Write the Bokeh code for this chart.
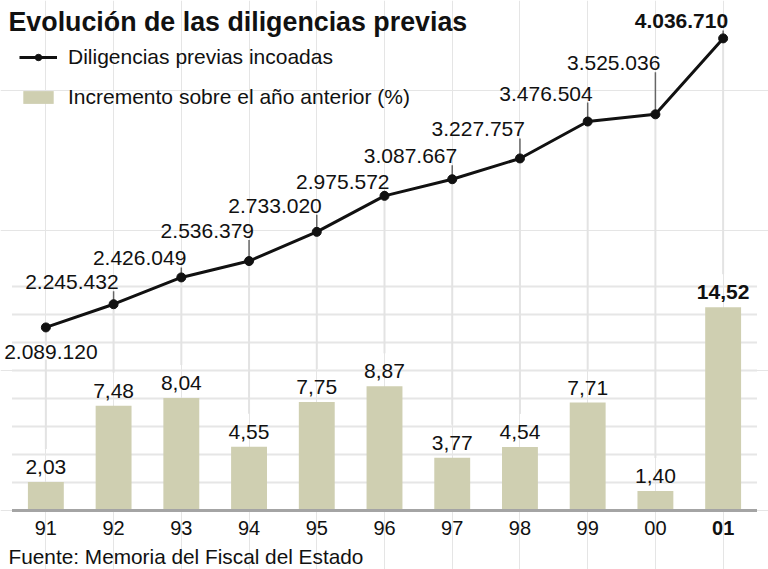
from bokeh.plotting import figure
from bokeh.models import ColumnDataSource, Range1d, FactorRange, Label, Legend, LegendItem
from bokeh.core.properties import value
from bokeh.embed import file_html
from bokeh.resources import INLINE

# ---------------- data ----------------
years = ["91", "92", "93", "94", "95", "96", "97", "98", "99", "00", "01"]
diligencias = [2089120, 2245432, 2426049, 2536379, 2733020, 2975572,
               3087667, 3227757, 3476504, 3525036, 4036710]
incremento = [2.03, 7.48, 8.04, 4.55, 7.75, 8.87, 3.77, 4.54, 7.71, 1.40, 14.52]
grid_ticks = [0, 2, 4, 6, 8, 10, 12, 14, 16]

title_text = "Evolución de las diligencias previas"
legend_line = "Diligencias previas incoadas"
legend_bar = "Incremento sobre el año anterior (%)"
source_text = "Fuente: Memoria del Fiscal del Estado"

# ---------------- layout / style ----------------
W, H = 768, 569
FONT = "Liberation Sans"
BAR = "#cfcfb1"
VLINE = "#e3e3e3"
GRID = "#e6e6e6"
TXT = "#111111"

BASE_PX = 59          # baseline distance from bottom of frame
PX_PER_PCT = 14.0
bar_start = -BASE_PX / PX_PER_PCT
bar_end = (H - BASE_PX) / PX_PER_PCT
line_start, line_end = 458000, 4292000
DIL_PER_PX = (line_end - line_start) / H
K = (line_end - line_start) / (bar_end - bar_start)

# label placement (px above point, screen)
lab_up = [-25, 22, 19, 30, 26, 14, 23, 29, 28, 51, 17]
n = len(years)
last_bold = ["bold" if i == n - 1 else "normal" for i in range(n)]

dil_labels = [f"{v:,}".replace(",", ".") for v in diligencias]
inc_labels = [f"{v:.2f}".replace(".", ",") for v in incremento]

p = figure(width=W, height=H, output_backend="svg", toolbar_location=None,
           x_range=FactorRange(*years, range_padding=W / 745 - 1),
           y_range=Range1d(bar_start, bar_end),
           x_axis_location=None, y_axis_location=None,
           min_border=0, outline_line_color=None)
p.extra_y_ranges = {"dil": Range1d(line_start, line_end)}

# horizontal grid
gsrc = ColumnDataSource(dict(y=grid_ticks,
                             x0=[(years[0], -0.5)] * len(grid_ticks),
                             x1=[(years[-1], 0.5)] * len(grid_ticks)))
p.segment(x0="x0", x1="x1", y0="y", y1="y", source=gsrc, line_color=GRID, line_width=2)

# vertical light lines from point down to bar label
vsrc = ColumnDataSource(dict(
    x=years, y0=diligencias,
    y1=[line_start + (v + 33 / PX_PER_PCT - bar_start) * K for v in incremento]))
p.segment(x0="x", x1="x", y0="y0", y1="y1", source=vsrc, y_range_name="dil",
          line_color=VLINE, line_width=2)

# bars
bars = p.vbar(x=years, top=incremento, width=0.53, fill_color=BAR, line_color=None)

# baseline
bsrc = ColumnDataSource(dict(x0=[(years[0], -0.5)], x1=[(years[-1], 0.5)], y=[0]))
p.segment(x0="x0", x1="x1", y0="y", y1="y", source=bsrc, line_color="#a4a4a4", line_width=3)

# bar labels
p.text(x=years, y=incremento, text=inc_labels, y_offset=-15,
       text_align="center", text_baseline="middle",
       text_font=value(FONT), text_font_size="21px", text_color=TXT,
       text_font_style=last_bold)

# line labels
lsrc = ColumnDataSource(dict(
    x=years, y=diligencias, t=dil_labels,
    yo=[-u for u in lab_up],
    al=["center" if u < 0 else "right" for u in lab_up],
    bga=[1 if u < 0 else 0 for u in lab_up],
    st=last_bold))
p.text(x="x", y="y", text="t", source=lsrc, y_range_name="dil",
       x_offset=5, y_offset="yo", text_align="al", text_baseline="middle",
       text_font=value(FONT), text_font_size="21px", text_color=TXT,
       text_font_style="st", background_fill_color="white", background_fill_alpha="bga")

# leader lines (label above point)
up_idx = [i for i in range(n) if lab_up[i] > 0]
ldsrc = ColumnDataSource(dict(
    x=[years[i] for i in up_idx],
    y0=[diligencias[i] for i in up_idx],
    y1=[diligencias[i] + (lab_up[i] - 9) * DIL_PER_PX for i in up_idx]))
p.segment(x0="x", x1="x", y0="y0", y1="y1", source=ldsrc, y_range_name="dil",
          line_color="#666666", line_width=1.5)

# line + dots
ln = p.line(x=years, y=diligencias, y_range_name="dil", line_color=TXT, line_width=3)
dots = p.scatter(x=years, y=diligencias, y_range_name="dil", size=9,
                 fill_color=TXT, line_color=TXT)

# x tick labels
p.text(x=years, y=[0] * n, text=years, y_offset=17,
       text_align="center", text_baseline="middle",
       text_font=value(FONT), text_font_size="20px", text_color=TXT,
       text_font_style=last_bold)

# legend
legend = Legend(items=[LegendItem(label=legend_line, renderers=[ln, dots]),
                       LegendItem(label=legend_bar, renderers=[bars])],
                location=(19, 460), orientation="vertical",
                glyph_width=38, glyph_height=16, label_height=24, spacing=16,
                label_standoff=11, padding=0, margin=0,
                border_line_color=None, background_fill_alpha=0,
                label_text_font=FONT, label_text_font_size="21px",
                label_text_color=TXT)
p.add_layout(legend)

# title & source
p.add_layout(Label(x=8, y=H - 21, x_units="screen", y_units="screen", text=title_text,
                   text_font=FONT, text_font_size="26.8px", text_font_style="bold",
                   text_color=TXT, text_baseline="middle"))
p.add_layout(Label(x=8, y=13, x_units="screen", y_units="screen", text=source_text,
                   text_font=FONT, text_font_size="20.8px", text_color=TXT,
                   text_baseline="middle"))

open("out.html", "w").write(file_html(p, INLINE))
